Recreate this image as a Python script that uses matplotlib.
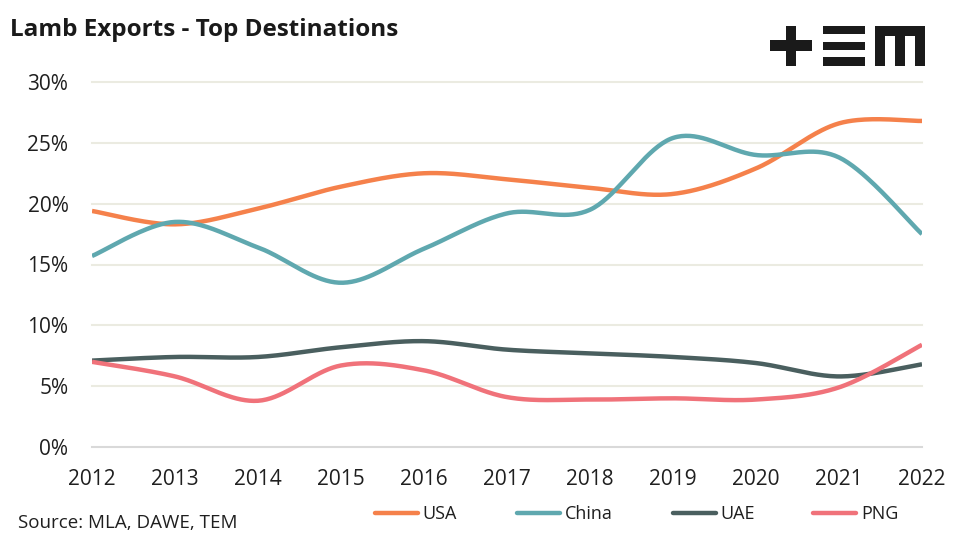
import numpy as np
import matplotlib
matplotlib.use("Agg")
import matplotlib.pyplot as plt
from matplotlib.patches import Rectangle

plt.rcParams['font.family'] = ['Open Sans', 'DejaVu Sans']

years = [2012, 2013, 2014, 2015, 2016, 2017, 2018, 2019, 2020, 2021, 2022]
usa   = [19.4, 18.3, 19.6, 21.4, 22.5, 22.0, 21.3, 20.8, 22.9, 26.6, 26.8]
china = [15.7, 18.5, 16.4, 13.5, 16.3, 19.2, 19.5, 25.4, 24.0, 23.8, 17.5]
uae   = [7.1, 7.4, 7.4, 8.2, 8.7, 8.0, 7.7, 7.4, 6.9, 5.8, 6.8]
png   = [7.0, 5.8, 3.8, 6.7, 6.3, 4.1, 3.9, 4.0, 3.9, 4.9, 8.4]

series_names = ['USA', 'China', 'UAE', 'PNG']
series_vals = [usa, china, uae, png]
colors = ['#F5814B', '#5FA8AF', '#4A5F5F', '#F0727A']
y_ticks = [0, 5, 10, 15, 20, 25, 30]
y_tick_labels = ['0%', '5%', '10%', '15%', '20%', '25%', '30%']


def smooth(xs, ys, n=40):
    """Excel-style smoothed line: cubic Bezier with Catmull-Rom control points."""
    xs = np.asarray(xs, float)
    ys = np.asarray(ys, float)
    P = np.column_stack([xs, ys])
    out = []
    m = len(P)
    t = np.linspace(0, 1, n)[:, None]
    for i in range(m - 1):
        p0 = P[i - 1] if i > 0 else P[i]
        p1 = P[i]
        p2 = P[i + 1]
        p3 = P[i + 2] if i + 2 < m else P[i + 1]
        c1 = p1 + (p2 - p0) / 6.0
        c2 = p2 - (p3 - p1) / 6.0
        seg = ((1 - t) ** 3) * p1 + 3 * ((1 - t) ** 2) * t * c1 + 3 * (1 - t) * t ** 2 * c2 + t ** 3 * p2
        if i > 0:
            seg = seg[1:]
        out.append(seg)
    out = np.vstack(out)
    return out[:, 0], out[:, 1]


W, H = 962, 541
fig = plt.figure(figsize=(W / 100, H / 100), dpi=100)
ax = fig.add_axes([92 / W, 1 - 447 / H, (922 - 92) / W, (447 - 82) / H])

for name, vals, c in zip(series_names, series_vals, colors):
    sx, sy = smooth(years, vals)
    ax.plot(sx, sy, color=c, lw=3.2, label=name, solid_capstyle='butt', zorder=3)

ax.set_xlim(2012, 2022)
ax.set_ylim(0, 30)
ax.set_xticks(years)
ax.set_xticklabels([str(y) for y in years])
ax.set_yticks(y_ticks)
ax.set_yticklabels(y_tick_labels)
for yv in y_ticks:
    ax.axhline(yv, color='#D9D9D9' if yv == 0 else '#EBEBE1', lw=1.5, zorder=1, clip_on=False)
for s in ax.spines.values():
    s.set_visible(False)
ax.tick_params(axis='both', length=0, labelsize=15, colors='#1F1F1F')
ax.tick_params(axis='y', pad=17)
ax.tick_params(axis='x', pad=16)

fig.text(10 / W, 1 - 36 / H, 'Lamb Exports - Top Destinations', fontsize=17.5, fontweight='bold',
         color='#1A1A1A', ha='left', va='baseline')
fig.text(18 / W, 1 - 523 / H, 'Source: MLA, DAWE, TEM', fontsize=13.5, color='#1F1F1F',
         ha='left', va='center')

# Legend: one entry per position
handles = ax.get_lines()
leg_x = [375, 517, 673, 813]
for h, lx in zip(handles, leg_x):
    leg = fig.legend([h], [h.get_label()], loc='center left', bbox_to_anchor=(lx / W, 1 - 514 / H),
                     frameon=False, fontsize=13, handlelength=2.4, handletextpad=0.25,
                     borderpad=0, borderaxespad=0)
    for t in leg.get_texts():
        t.set_color('#1F1F1F')
    for ln in leg.get_lines():
        ln.set_linewidth(3.2)
        ln.set_solid_capstyle('round')

# Logo "+EM"
logo_c = '#1A1A1A'
def rect(x0, y0, x1, y1):
    fig.patches.append(Rectangle((x0 / W, 1 - y1 / H), (x1 - x0) / W, (y1 - y0) / H,
                                 transform=fig.transFigure, color=logo_c, lw=0))
rect(770, 40, 812, 51)
rect(786, 26, 796, 66)
rect(823, 26, 865, 34)
rect(823, 42, 865, 50)
rect(823, 57, 865, 66)
rect(875, 26, 925, 36)
rect(875, 26, 885, 66)
rect(895, 26, 905, 66)
rect(915, 26, 925, 66)

fig.savefig('out.png', dpi=100, facecolor='white')
